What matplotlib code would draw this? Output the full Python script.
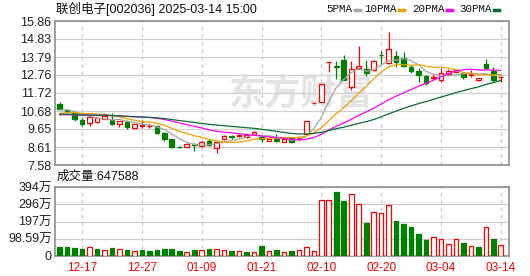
#!/usr/bin/env python3
import numpy as np
import pandas as pd
import matplotlib
matplotlib.use("Agg")
import matplotlib.pyplot as plt
from matplotlib.lines import Line2D

plt.rcParams['font.family'] = ['Liberation Sans', 'Noto Sans CJK SC', 'DejaVu Sans']

title = "联创电子[002036] 2025-03-14 15:00"

dates = ["12-12", "12-13", "12-16", "12-17", "12-18", "12-19", "12-20", "12-23", "12-24", "12-25",
         "12-26", "12-27", "12-30", "12-31", "01-02", "01-03", "01-06", "01-07", "01-08", "01-09",
         "01-10", "01-13", "01-14", "01-15", "01-16", "01-17", "01-20", "01-21", "01-22", "01-23",
         "01-24", "01-27", "02-05", "02-06", "02-07", "02-10", "02-11", "02-12", "02-13", "02-14",
         "02-17", "02-18", "02-19", "02-20", "02-21", "02-24", "02-25", "02-26", "02-27", "02-28",
         "03-03", "03-04", "03-05", "03-06", "03-07", "03-10", "03-11", "03-12", "03-13", "03-14"]

opens = [11.09, 10.72, 10.55, 10.17, 10.01, 10.03, 10.23, 10.17, 9.96, 10.05,
         9.72, 9.85, 9.80, 9.82, 9.40, 9.06, 8.62, 8.62, 8.80, 8.69,
         8.94, 8.54, 9.06, 9.22, 9.23, 9.21, 9.35, 9.19, 8.98, 9.09,
         8.92, 9.15, 9.10, 9.36, 11.14, 11.22, 13.48, 13.25, 13.62, 12.05,
         13.14, 13.10, 13.04, 13.93, 13.43, 13.85, 13.75, 13.23, 12.98, 12.70,
         12.57, 12.47, 12.81, 12.95, 12.85, 12.76, 12.45, 13.39, 12.98, 12.62]
highs = [11.22, 10.78, 10.62, 10.26, 10.46, 10.30, 10.50, 10.55, 10.13, 10.15,
         9.95, 10.17, 9.96, 9.86, 9.46, 9.08, 8.66, 8.84, 8.84, 8.98,
         9.06, 8.95, 9.28, 9.29, 9.36, 9.33, 9.55, 9.22, 9.12, 9.34,
         9.10, 9.20, 9.22, 10.13, 11.14, 12.25, 13.48, 13.56, 13.90, 13.56,
         14.44, 13.62, 13.60, 14.15, 15.21, 14.15, 14.05, 13.33, 13.14, 12.76,
         12.73, 13.14, 13.12, 13.12, 12.95, 13.04, 12.60, 13.65, 13.23, 12.62]
lows = [10.78, 10.60, 10.11, 9.84, 9.82, 10.00, 10.20, 9.90, 9.78, 9.65,
        9.70, 9.70, 9.72, 9.38, 8.98, 8.58, 8.55, 8.60, 8.36, 8.62,
        8.68, 8.29, 9.02, 9.10, 9.18, 9.16, 9.33, 8.89, 8.94, 8.92,
        8.88, 8.87, 8.99, 9.30, 11.14, 11.20, 12.95, 12.53, 12.45, 11.89,
        13.10, 12.70, 12.97, 13.36, 13.40, 13.23, 13.23, 12.85, 12.37, 12.18,
        12.45, 12.33, 12.76, 12.90, 12.50, 12.62, 12.43, 13.10, 12.33, 12.37]
closes = [10.80, 10.66, 10.23, 9.94, 10.32, 10.26, 10.40, 9.92, 10.11, 9.78,
          9.92, 9.90, 9.84, 9.40, 9.06, 8.60, 8.59, 8.80, 8.74, 8.88,
          8.71, 8.92, 9.25, 9.17, 9.32, 9.30, 9.50, 9.07, 9.09, 8.94,
          9.07, 8.89, 9.15, 10.13, 11.14, 12.25, 13.48, 13.20, 12.47, 13.08,
          13.27, 12.85, 13.56, 13.88, 14.25, 13.48, 13.30, 12.99, 12.74, 12.31,
          12.63, 12.85, 13.00, 13.05, 12.62, 12.79, 12.58, 13.18, 12.45, 12.62]
# volume in 万 shares
volumes = [51, 51, 43, 38, 49, 38, 36, 43, 42, 32,
           30, 32, 26, 32, 38, 38, 26, 25, 32, 36,
           38, 42, 36, 26, 30, 21, 25, 55, 30, 32,
           25, 26, 36, 53, 30, 321, 321, 366, 315, 353,
           296, 191, 251, 245, 291, 202, 185, 164, 128, 94,
           111, 98, 70, 98, 77, 60, 49, 168, 100, 64.7588]

# closes before the visible window, estimated from where the MA lines start
prior_closes = [10.9, 10.8, 10.7, 10.6, 10.5, 10.45, 10.5, 10.6, 10.55, 10.5,
                10.45, 10.4, 10.3, 10.35, 10.25, 10.3, 10.4, 10.45, 10.4, 10.4,
                10.3, 10.25, 10.35, 10.4, 10.5,
                10.6, 10.7, 10.75, 10.85]

price_ticks = [7.58, 8.61, 9.65, 10.68, 11.72, 12.76, 13.79, 14.83, 15.86]
price_labels = ["7.58", "8.61", "9.65", "10.68", "11.72", "12.76", "13.79", "14.83", "15.86"]
vol_ticks = [0, 98.59, 197.18, 295.77, 394.36]
vol_labels = ["0", "98.59万", "197万", "296万", "394万"]
tick_dates = ["12-17", "12-27", "01-09", "01-21", "02-10", "02-20", "03-04", "03-14"]

ma_periods = [5, 10, 20, 30]
ma_names = ["5PMA", "10PMA", "20PMA", "30PMA"]
ma_colors = ["#a6a6a6", "#f0a000", "#ff00ff", "#0a6e32"]

RED = "#ff0000"
GREEN = "#008000"
GRID = "#d0d0d0"
W, H = 530, 276


def box(l, t, r, b):
    return [l / W, 1 - b / H, (r - l) / W, (b - t) / H]


def main():
    o = np.array(opens)
    h = np.array(highs)
    lo = np.array(lows)
    c = np.array(closes)
    x = np.arange(len(dates))
    prev = np.r_[prior_closes[-1], c[:-1]]

    # candle colour: close vs open, doji falls back to previous close
    up = np.where(c > o, True, np.where(c < o, False, c >= prev))
    vol_up = c >= prev

    all_close = pd.Series(prior_closes + closes)
    mas = [all_close.rolling(n).mean().iloc[len(prior_closes):].values for n in ma_periods]

    fig = plt.figure(figsize=(W / 100, H / 100), dpi=100)
    ax = fig.add_axes(box(55, 21, 509, 165))
    axv = fig.add_axes(box(55, 187, 509, 256))

    xlim = (-0.62, 60.1)
    tick_pos = [dates.index(d) for d in tick_dates]

    for a in (ax, axv):
        a.set_xlim(xlim)
        for p in tick_pos:
            a.axvline(p, color="#cccccc", lw=0.9, ls=(0, (3, 3)), zorder=1)
        for s in a.spines.values():
            s.set_color("#8f8f8f")
            s.set_linewidth(1.2)
        a.tick_params(length=0, labelsize=9, pad=2.5, colors="#222222")
        a.yaxis.grid(True, color=GRID, lw=0.9, zorder=1)
        a.set_axisbelow(True)

    # watermark
    ax.text(301 / W, 1 - 94 / H, "东方财富", transform=fig.transFigure, fontsize=26,
            fontweight="bold", color="#e4e4e4", ha="center", va="center",
            family=["Noto Sans CJK SC"], zorder=0.5)

    # candles
    cols = np.where(up, RED, GREEN)
    ax.vlines(x, lo, h, colors=cols, lw=0.9, zorder=2)
    body_bot = np.minimum(o, c)
    body_h = np.maximum(np.abs(c - o), 0.015)
    ax.bar(x, body_h, bottom=body_bot, width=0.62,
           facecolor=np.where(up, "white", GREEN), edgecolor=cols, lw=0.9, zorder=3)

    for vals, col in zip(mas, ma_colors):
        ax.plot(x, vals, color=col, lw=0.9, zorder=4)

    ax.set_ylim(price_ticks[0], price_ticks[-1])
    ax.set_yticks(price_ticks)
    ax.set_yticklabels(price_labels)
    ax.set_xticks([])

    # volume
    vcols = np.where(vol_up, RED, GREEN)
    axv.bar(x, volumes, width=0.62, facecolor=np.where(vol_up, "white", GREEN),
            edgecolor=vcols, lw=0.9, zorder=3)
    axv.set_ylim(vol_ticks[0], vol_ticks[-1])
    axv.set_yticks(vol_ticks)
    axv.set_yticklabels(vol_labels)
    axv.set_xticks(tick_pos)
    axv.set_xticklabels(tick_dates, color=RED, fontsize=8.5)
    axv.tick_params(axis="x", pad=4)

    # header texts
    fig.text(56 / W, 1 - 9 / H, title, fontsize=9, ha="left", va="center", color="#111111")
    fig.text(57 / W, 1 - 177 / H, "成交量:%d" % round(volumes[-1] * 10000), fontsize=9,
             ha="left", va="center", color="#111111")

    # MA legend
    legend_x = [326, 364, 412, 459]
    for lx, name, col in zip(legend_x, ma_names, ma_colors):
        fig.text(lx / W, 1 - 9 / H, name, fontsize=7.8, ha="left", va="center",
                 family=["Liberation Mono"], color="#111111")
        tw = len(name) * 6.4
        fig.add_artist(Line2D([(lx + tw + 3) / W, (lx + tw + 8) / W], [1 - 10 / H] * 2,
                              transform=fig.transFigure, color=col, lw=2.5))

    fig.savefig("out.png", dpi=100)
    plt.close(fig)


if __name__ == "__main__":
    main()
